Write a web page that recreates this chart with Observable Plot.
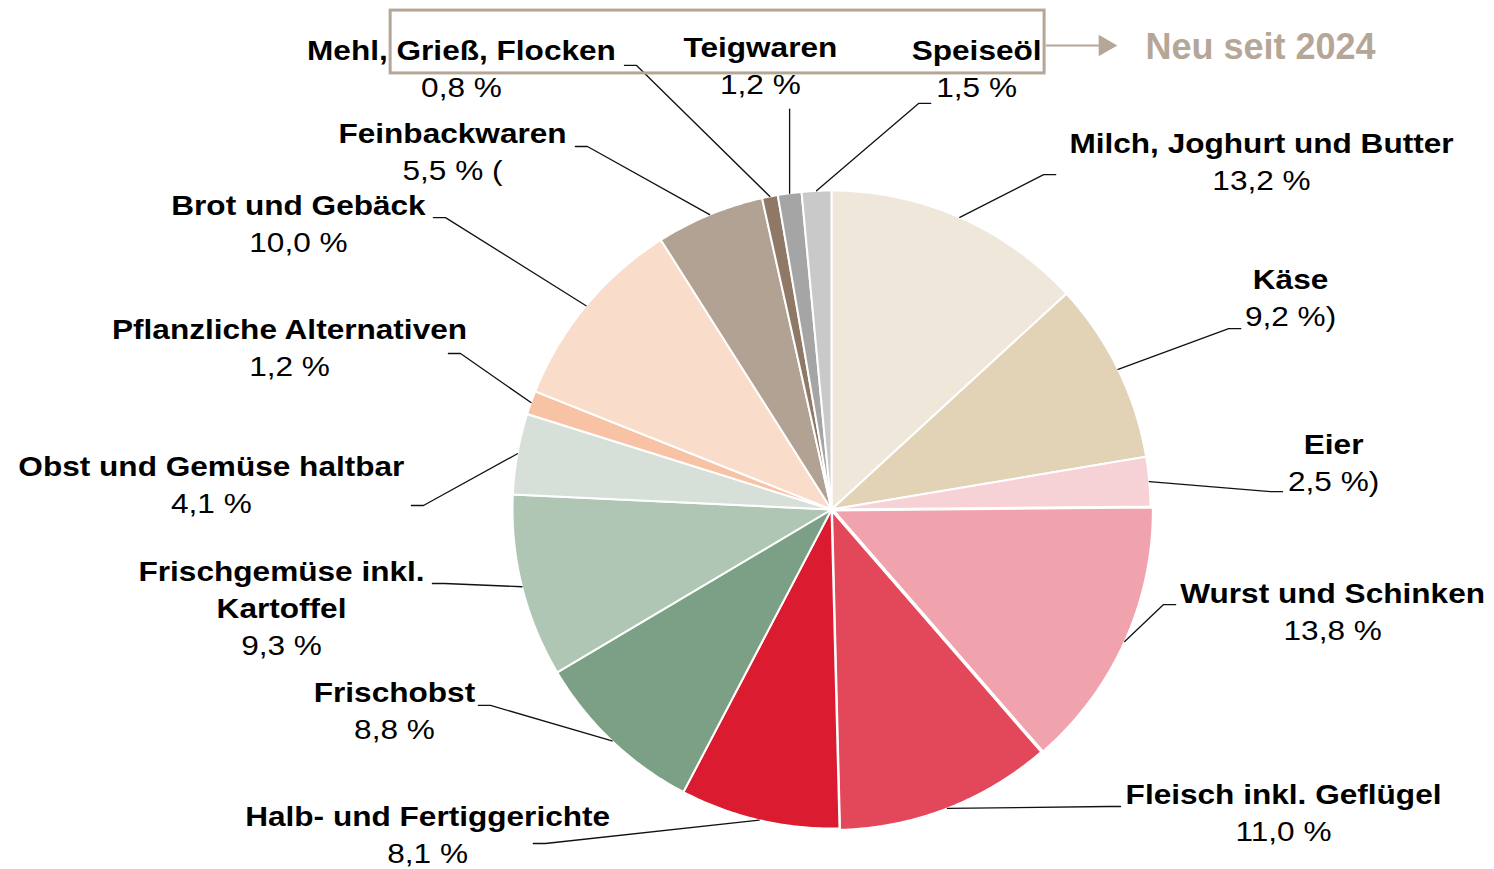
<!DOCTYPE html>
<html>
<head>
<meta charset="utf-8">
<script src="https://cdn.jsdelivr.net/npm/d3@7"></script>
<script src="https://cdn.jsdelivr.net/npm/@observablehq/plot@0.6"></script>
<style>
html, body { margin: 0; padding: 0; background: #fff; }
#chart svg { display: block; }
</style>
</head>
<body>
<div id="chart"></div>
<script>
// ---------- DATA ----------
const categories = [
  "Milch, Joghurt und Butter", "Käse", "Eier", "Wurst und Schinken",
  "Fleisch inkl. Geflügel", "Halb- und Fertiggerichte", "Frischobst",
  "Frischgemüse inkl.\nKartoffel", "Obst und Gemüse haltbar",
  "Pflanzliche Alternativen", "Brot und Gebäck", "Feinbackwaren",
  "Mehl, Grieß, Flocken", "Teigwaren", "Speiseöl"
];
const values = [13.2, 9.2, 2.5, 13.8, 11.0, 8.1, 8.8, 9.3, 4.1, 1.2, 10.0, 5.5, 0.8, 1.2, 1.5];
const valueSuffix = ["", ")", ")", "", "", "", "", "", "", "", "", " (", "", "", ""];
const annotationText = "Neu seit 2024";

// ---------- STYLE / LAYOUT ----------
const colors = [
  "#F0E7DB", "#E2D3B7", "#F6D1D6", "#F0A3AC", "#E2475A", "#DA1B30", "#7CA085",
  "#B0C6B5", "#D6E0D8", "#F8C3A5", "#FADCCA", "#B2A293", "#8F7966", "#A5A5A5", "#C9C9C9"
];
const explode = [0, 0, 0, 0.008, 0.005, 0, 0, 0, 0, 0, 0, 0, 0, 0, 0];
// label anchor (centre of first line), in pie-radius units
const labelPos = [
  [1.348, 1.144], [1.439, 0.718], [1.574, 0.201], [1.571, -0.266], [1.417, -0.897],
  [-1.266, -0.966], [-1.370, -0.577], [-1.724, -0.197], [-1.944, 0.132], [-1.699, 0.561],
  [-1.671, 0.950], [-1.188, 1.176], [-1.160, 1.436], [-0.223, 1.445], [0.455, 1.436]
];
// leader-line elbows (null x = straight above the slice edge)
const elbows = [
  [0.665, 1.050], [1.245, 0.567], [1.376, 0.056], [1.041, -0.298], [0.868, -0.931],
  [-0.897, -1.047], [-1.069, -0.614], [-1.213, -0.232], [-1.279, 0.0125], [-1.163, 0.489],
  [-1.210, 0.915], [-0.765, 1.138], [-0.611, 1.392], [null, 1.255], [0.273, 1.273]
];
const tailDir = [1, 1, 1, 1, 1, -1, -1, -1, -1, -1, -1, -1, -1, 0, 1];
const tail = 0.038;
const lineStep = 0.116;
const annotBox = {x1: -1.382, x2: 0.668, y1: 1.564, y2: 1.367};
const annotArrow = {x1: 0.674, x2: 0.845, y: 1.4545, tip: 0.857};
const annotLabel = {x: 1.345, y: 1.448};
const accent = "#B6A697";
const textScaleX = 1.17;
const labelFontSize = 27;

// ---------- BUILD ----------
const fmt = v => v.toFixed(1).replace(".", ",") + " %";
const arcs = d3.pie().sort(null).value(d => d)(values);

const slicePts = [];
const leaderPts = [];
arcs.forEach((a, i) => {
  const mid = (a.startAngle + a.endAngle) / 2;
  const ox = explode[i] * Math.sin(mid), oy = explode[i] * Math.cos(mid);
  slicePts.push({cat: i, x: ox, y: oy, fill: colors[i]});
  const n = Math.max(2, Math.ceil((a.endAngle - a.startAngle) / (Math.PI / 360)));
  for (let k = 0; k <= n; k++) {
    const t = a.startAngle + (a.endAngle - a.startAngle) * k / n;
    slicePts.push({cat: i, x: ox + Math.sin(t), y: oy + Math.cos(t), fill: colors[i]});
  }
  slicePts.push({cat: i, x: ox, y: oy, fill: colors[i]});

  const ex = ox + Math.sin(mid), ey = oy + Math.cos(mid);
  const bx = elbows[i][0] == null ? ex : elbows[i][0];
  const by = elbows[i][1];
  leaderPts.push({cat: i, x: ex, y: ey}, {cat: i, x: bx, y: by}, {cat: i, x: bx + tailDir[i] * tail, y: by});
});

const labels = categories.map((c, i) => {
  const lines = c.split("\n").length;
  const [lx, ly] = labelPos[i];
  return {
    name: c,
    value: fmt(values[i]) + valueSuffix[i],
    x: lx,
    nameY: ly - (lines - 1) / 2 * lineStep,
    valueY: ly - lines * lineStep
  };
});

const chart = Plot.plot({
  width: 1494,
  height: 869,
  margin: 0,
  x: {domain: [-1, 1], range: [512, 1150], axis: null},
  y: {domain: [-1, 1], range: [828, 190], axis: null},
  color: {type: "identity"},
  style: {fontFamily: "'Liberation Sans', Arial, sans-serif", background: "#fff", overflow: "visible"},
  marks: [
    Plot.line(slicePts, {x: "x", y: "y", z: "cat", fill: "fill", stroke: "#fff", strokeWidth: 2, strokeLinejoin: "round", curve: "linear"}),
    Plot.line(leaderPts, {x: "x", y: "y", z: "cat", stroke: "#111", strokeWidth: 1.3, curve: "linear"}),
    Plot.text(labels, {x: "x", y: "nameY", text: "name", fontSize: labelFontSize, fontWeight: "bold", fill: "#000", lineHeight: 37 / labelFontSize, textAnchor: "middle", dy: -3}),
    Plot.text(labels, {x: "x", y: "valueY", text: "value", fontSize: labelFontSize, fill: "#000", textAnchor: "middle"}),
    Plot.rect([annotBox], {x1: "x1", x2: "x2", y1: "y1", y2: "y2", fill: "none", stroke: accent, strokeWidth: 3}),
    Plot.line([{x: annotArrow.x1, y: annotArrow.y}, {x: annotArrow.x2, y: annotArrow.y}], {x: "x", y: "y", stroke: accent, strokeWidth: 2}),
    Plot.dot([{x: annotArrow.tip, y: annotArrow.y}], {x: "x", y: "y", symbol: "triangle", r: 8, rotate: 90, fill: accent, stroke: "none"}),
    Plot.text([{x: annotLabel.x, y: annotLabel.y, t: annotationText}], {x: "x", y: "y", text: "t", fontSize: 36, fontWeight: "bold", fill: accent, textAnchor: "middle"})
  ]
});

// widen the slice labels horizontally (reference typeface is wide-set)
chart.querySelectorAll('g[aria-label="text"] text').forEach(el => {
  if (el.textContent === annotationText) return;
  const t = el.getAttribute("transform");
  if (t) el.setAttribute("transform", t + ` scale(${textScaleX},1)`);
});

document.getElementById("chart").appendChild(chart);
</script>
</body>
</html>
